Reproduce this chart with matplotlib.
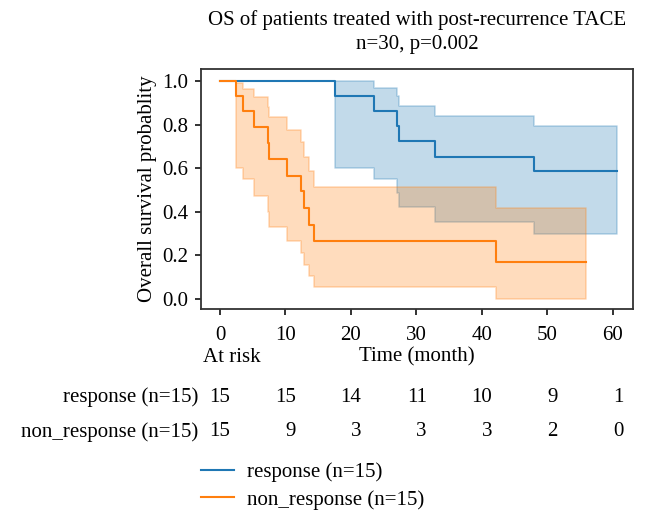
import matplotlib
matplotlib.use("Agg")
import matplotlib.pyplot as plt
import matplotlib.transforms as mtransforms

plt.rcParams['font.family'] = ['Liberation Serif', 'DejaVu Serif']
FS = 15

# survival steps (post)
resp_t = [0, 17.5, 23.5, 27.0, 27.3, 32.9, 48.0, 60.6]
resp_s = [1.0, 0.931, 0.862, 0.793, 0.724, 0.652, 0.588, 0.588]
resp_hi = [1.0, 1.0, 0.966, 0.931, 0.887, 0.839, 0.792, 0.792]
resp_lo = [1.0, 0.602, 0.551, 0.484, 0.421, 0.354, 0.297, 0.297]

non_t = [0, 2.45, 3.5, 5.2, 7.3, 7.5, 10.3, 12.4, 12.8, 13.6, 14.4, 42.1, 55.9]
non_s = [1.0, 0.931, 0.864, 0.79, 0.714, 0.642, 0.564, 0.493, 0.415, 0.34, 0.264, 0.167, 0.167]
non_hi = [1.0, 0.992, 0.962, 0.925, 0.882, 0.833, 0.776, 0.721, 0.652, 0.587, 0.512, 0.418, 0.418]
non_lo = [1.0, 0.599, 0.55, 0.47, 0.40, 0.331, 0.265, 0.211, 0.155, 0.104, 0.055, 0.0, 0.0]

ticks = [0, 10, 20, 30, 40, 50, 60]
risk_resp = [15, 15, 14, 11, 10, 9, 1]
risk_non = [15, 9, 3, 3, 3, 2, 0]
labels = ['response (n=15)', 'non_response (n=15)']

fig = plt.figure(figsize=(6.52, 5.16), dpi=100)
ax = fig.add_axes([201/652, 1-309/516, 432/652, 240/516])

ax.fill_between(resp_t, resp_lo, resp_hi, step='post', color='C0', alpha=0.27, linewidth=1.2)
ax.fill_between(non_t, non_lo, non_hi, step='post', color='C1', alpha=0.27, linewidth=1.2)
l1, = ax.plot(resp_t, resp_s, drawstyle='steps-post', color='C0', lw=1.5)
l2, = ax.plot(non_t, non_s, drawstyle='steps-post', color='C1', lw=1.5)

ax.set_xlim(-2.9, 63.1)
ax.set_ylim(-0.047, 1.055)
ax.set_xticks(ticks)
ax.set_yticks([0.0, 0.2, 0.4, 0.6, 0.8, 1.0])
ax.set_yticklabels(['0.0', '0.2', '0.4', '0.6', '0.8', '1.0'])
ax.tick_params(labelsize=FS, length=4, width=1.3, color='#222222')
ax.tick_params(axis='x', pad=8)
ax.tick_params(axis='y', pad=5)
for s in ax.spines.values():
    s.set_linewidth(1.3)
    s.set_color('#333333')

fig.text(417/652, 1-20/516, 'OS of patients treated with post-recurrence TACE',
         fontsize=FS, ha='center', va='center')
fig.text(417/652, 1-45/516, 'n=30, p=0.002', fontsize=FS, ha='center', va='center')
ax.set_ylabel('Overall survival probablity', fontsize=FS, labelpad=4)
fig.text(417/652, 1-357/516, 'Time (month)', fontsize=FS, ha='center', va='center')
fig.text(203/652, 1-357/516, 'At risk', fontsize=FS, ha='left', va='center')

# at-risk table
blend = mtransforms.blended_transform_factory(ax.transData, fig.transFigure)
shifted = mtransforms.offset_copy(blend, fig=fig, x=7.5, units='points')
for row, (lab, counts) in enumerate(zip(labels, [risk_resp, risk_non])):
    y = 1 - (397 + 35*row)/516
    fig.text(198/652, y, lab, fontsize=FS, ha='right', va='center')
    for t, c in zip(ticks, counts):
        ax.text(t, y, str(c), fontsize=FS, ha='right', va='center', transform=shifted)

fig.legend([l1, l2], labels, loc='upper left', bbox_to_anchor=(182/652, 1-444/516),
           frameon=False, fontsize=FS, handlelength=1.6, handletextpad=0.6,
           labelspacing=0.35)

fig.savefig('out.png', dpi=100)
